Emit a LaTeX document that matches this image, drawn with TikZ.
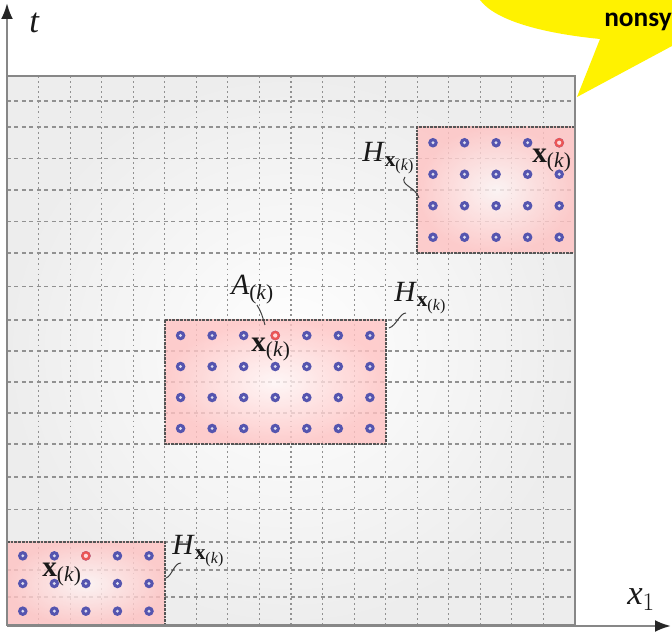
\documentclass[tikz,border=0pt]{standalone}
\usepackage{fix-cm}
\usepackage{amsmath}
\usepackage{fontspec}
\setmainfont{Liberation Serif}
\newfontfamily\bubblefont{Carlito}
\usetikzlibrary{arrows.meta}
\DeclareMathSizes{22}{22}{16}{12}
\DeclareMathSizes{26}{26}{19}{14}
\definecolor{framegray}{RGB}{135,135,135}
\definecolor{gridgray}{RGB}{145,145,145}
\definecolor{dotblue}{RGB}{85,85,175}
\definecolor{dotred}{RGB}{235,85,85}
\definecolor{boxedge}{RGB}{85,85,85}
\definecolor{lblcol}{RGB}{25,25,25}
\tikzset{
  vgrid/.style={gridgray, line width=0.9pt, dash pattern=on 1.4pt off 2.4pt},
  hgrid/.style={gridgray, line width=0.9pt, dash pattern=on 3pt off 2.6pt},
  pinkbox/.style={inner color=red!4, outer color=red!24, opacity=0.8},
  boxline/.style={boxedge, line width=1.2pt, dash pattern=on 2pt off 0.8pt},
  axisline/.style={framegray, line width=1.8pt},
  axistip/.style={-{Latex[length=12pt,width=9pt,color=black!85]}},
  lbl/.style={inner sep=0pt, text=lblcol, font=\fontsize{22}{26}\selectfont},
  biglbl/.style={inner sep=0pt, text=lblcol, font=\fontsize{26}{30}\selectfont},
  leader/.style={black!75, line width=0.75pt},
  bubtext/.style={inner sep=0pt, font=\bubblefont\bfseries\fontsize{20.5}{24}\selectfont}
}
\newcommand{\bdot}[1]{\fill[dotblue] #1 circle (3.6pt); \fill[dotblue!20!white] #1 circle (1.2pt);}
\newcommand{\rdot}[1]{\fill[dotred] #1 circle (3.6pt); \fill[red!15!white] #1 circle (1.6pt);}
\newcommand{\kk}{\text{(\textit{k})}}
\newcommand{\xk}{\mathbf{x}_{\kk}}
\begin{document}
\begin{tikzpicture}[x=0.75pt,y=-0.75pt]
\useasboundingbox (0,0) rectangle (672,634);
% frame background
\shade[inner color=white, outer color=black!7] (7,76) rectangle (575,625);
% grid
\foreach \k in {1,...,17} \draw[vgrid] ({7+31.556*\k},76) -- ({7+31.556*\k},625);
\foreach \y in {101,127,158.5,190,221.5,253,286.5,320,351,382,413,444,477,509.5,542,570,597}
  \draw[hgrid] (7,\y) -- (575,\y);
% pink boxes
\shade[pinkbox] (417.2,127) rectangle (575,253);
\shade[pinkbox] (164.8,320) rectangle (385.7,444);
\shade[pinkbox] (7,542) rectangle (164.8,625);
\draw[boxline] (575,127) -- (417.2,127) -- (417.2,253) -- (575,253);
\draw[boxline] (164.8,320) rectangle (385.7,444);
\draw[boxline] (7,542) -- (164.8,542) -- (164.8,625);
% dots top-right
\foreach \i in {0,...,4} \foreach \j in {0,...,3} {\bdot{({417.2+31.556*(\i+0.5)},{127+31.5*(\j+0.5)})}}
\rdot{({417.2+31.556*4.5},{127+31.5*0.5})}
% dots middle
\foreach \i in {0,...,6} \foreach \j in {0,...,3} {\bdot{({164.8+31.556*(\i+0.5)},{320+31*(\j+0.5)})}}
\rdot{({164.8+31.556*3.5},{320+31*0.5})}
% dots bottom-left
\foreach \i in {0,...,4} \foreach \j in {0,...,2} {\bdot{({7+31.556*(\i+0.5)},{542+27.67*(\j+0.5)})}}
\rdot{({7+31.556*2.5},{542+27.67*0.5})}
% frame border
\draw[framegray, line width=1.1pt] (7,76) rectangle (575,625);
% axes
\coordinate (origin) at (7,626);
\coordinate (ttip) at (7,3);
\coordinate (xtip) at (671,626);
\draw[axisline, axistip] (origin) -- (ttip);
\draw[axisline, axistip] (origin) -- (xtip);
% labels
\node[biglbl, anchor=base west] (tlab) at (29,33) {\textit{t}};
\node[biglbl, anchor=base west] (xlab) at (627,605) {\textit{x}$_{1}$};
\node[lbl, anchor=base west] (Htr) at (362,162) {\textit{H}$_{\xk}$};
\node[lbl, anchor=base west] (xtr) at (532,163) {$\xk$};
\node[lbl, anchor=base west] (Amid) at (231,295) {\textit{A}$_{\kk}$};
\node[lbl, anchor=base west] (xmid) at (251,352) {$\xk$};
\node[lbl, anchor=base west] (Hmid) at (394,302) {\textit{H}$_{\xk}$};
\node[lbl, anchor=base west] (Hbl) at (172,555) {\textit{H}$_{\xk}$};
\node[lbl, anchor=base west] (xbl) at (42,577) {$\xk$};
% leaders
\coordinate (Htrs) at (405,177); \coordinate (Htre) at (419,198);
\coordinate (Amids) at (257,305); \coordinate (Amide) at (265,325);
\coordinate (Hmids) at (406,313); \coordinate (Hmide) at (389,328);
\coordinate (Hbls) at (181,563); \coordinate (Hble) at (166,578);
\draw[leader] (Htrs) .. controls (399,185) and (416,187) .. (Htre);
\draw[leader] (Amids) .. controls (261,311) and (263,318) .. (Amide);
\draw[leader] (Hmids) .. controls (400,313) and (396,326) .. (Hmide);
\draw[leader] (Hbls) .. controls (174,563) and (172,576) .. (Hble);
% speech bubble
\fill[yellow] (480,0) .. controls (495,20) and (540,33) .. (600,39) -- (577,97) -- (672,46) -- (672,0) -- cycle;
\node[bubtext, anchor=base east] (nons) at (672,27) {nonsy};
\end{tikzpicture}
\end{document}
